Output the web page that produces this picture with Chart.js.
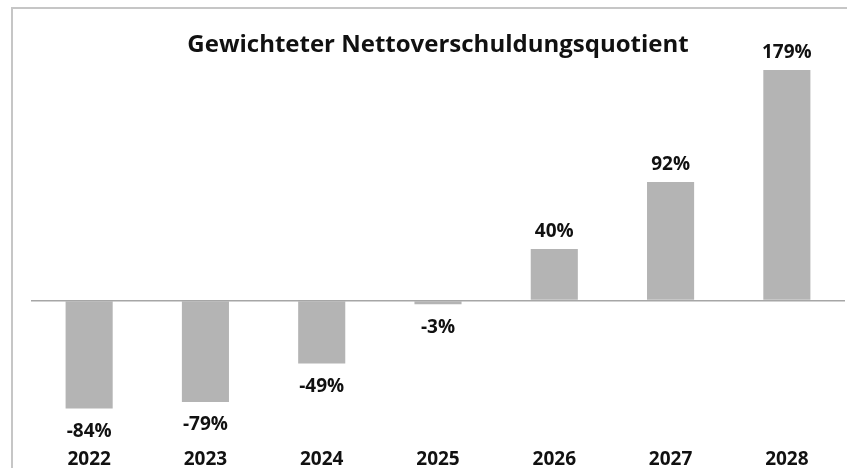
<!DOCTYPE html>
<html>
<head>
<meta charset="utf-8">
<script src="https://cdn.jsdelivr.net/npm/chart.js@4/dist/chart.umd.min.js"></script>
<style>
  html, body { margin: 0; padding: 0; background: #fff; }
  #wrap { width: 847px; height: 468px; }
</style>
</head>
<body>
<div id="wrap"><canvas id="c"></canvas></div>
<script>
const jahre = ['2022', '2023', '2024', '2025', '2026', '2027', '2028'];
const quote = [-84, -79, -49, -3, 40, 92, 179];
const titel = 'Gewichteter Nettoverschuldungsquotient';

const schrift = '"Open Sans", "Noto Sans", sans-serif';

// Rahmen links/oben wie im Original (rechts/unten abgeschnitten)
const rahmen = {
    id: 'rahmen',
    beforeDraw(chart) {
        const ctx = chart.ctx;
        ctx.save();
        ctx.strokeStyle = '#c6c6c6';
        ctx.lineWidth = 2;
        ctx.strokeRect(12, 8, chart.width, chart.height);
        ctx.restore();
    },
};

// Werte über/unter den Balken
const wertLabels = {
    id: 'wertLabels',
    afterDatasetsDraw(chart) {
        const ctx = chart.ctx;
        const meta = chart.getDatasetMeta(0);
        ctx.save();
        ctx.font = 'bold 19px ' + schrift;
        ctx.fillStyle = '#111';
        ctx.textAlign = 'center';
        ctx.textBaseline = 'middle';
        meta.data.forEach((bar, i) => {
            const v = quote[i];
            const y = v >= 0 ? bar.y - 17 : bar.y + 23;
            ctx.fillText(v + '%', bar.x, y);
        });
        ctx.restore();
    },
};

new Chart(document.getElementById('c'), {
    type: 'bar',
    data: {
        labels: jahre,
        datasets: [{
            data: quote,
            backgroundColor: '#b4b4b4',
            borderWidth: 0,
            categoryPercentage: 1,
            barPercentage: 0.405,
        }],
    },
    options: {
        responsive: true,
        maintainAspectRatio: false,
        animation: false,
        layout: { padding: { left: 31, right: 2, top: 0, bottom: 0 } },
        plugins: {
            legend: { display: false },
            tooltip: { enabled: false },
            title: {
                display: true,
                text: titel,
                color: '#111',
                font: { family: schrift, size: 24, weight: 'bold' },
                padding: { top: 31, bottom: 9 },
            },
        },
        scales: {
            x: {
                grid: { display: false },
                border: { display: false },
                ticks: {
                    color: '#111',
                    padding: -3,
                    font: { family: schrift, size: 19, weight: 'bold' },
                },
            },
            y: {
                min: -111,
                max: 180,
                border: { display: false },
                grid: {
                    drawTicks: false,
                    lineWidth: 1.5,
                    color: (c) => (c.tick && c.tick.value === 0 ? '#a6a6a6' : 'rgba(0,0,0,0)'),
                },
                ticks: { display: false, stepSize: 50 },
            },
        },
    },
    plugins: [rahmen, wertLabels],
});
</script>
</body>
</html>
